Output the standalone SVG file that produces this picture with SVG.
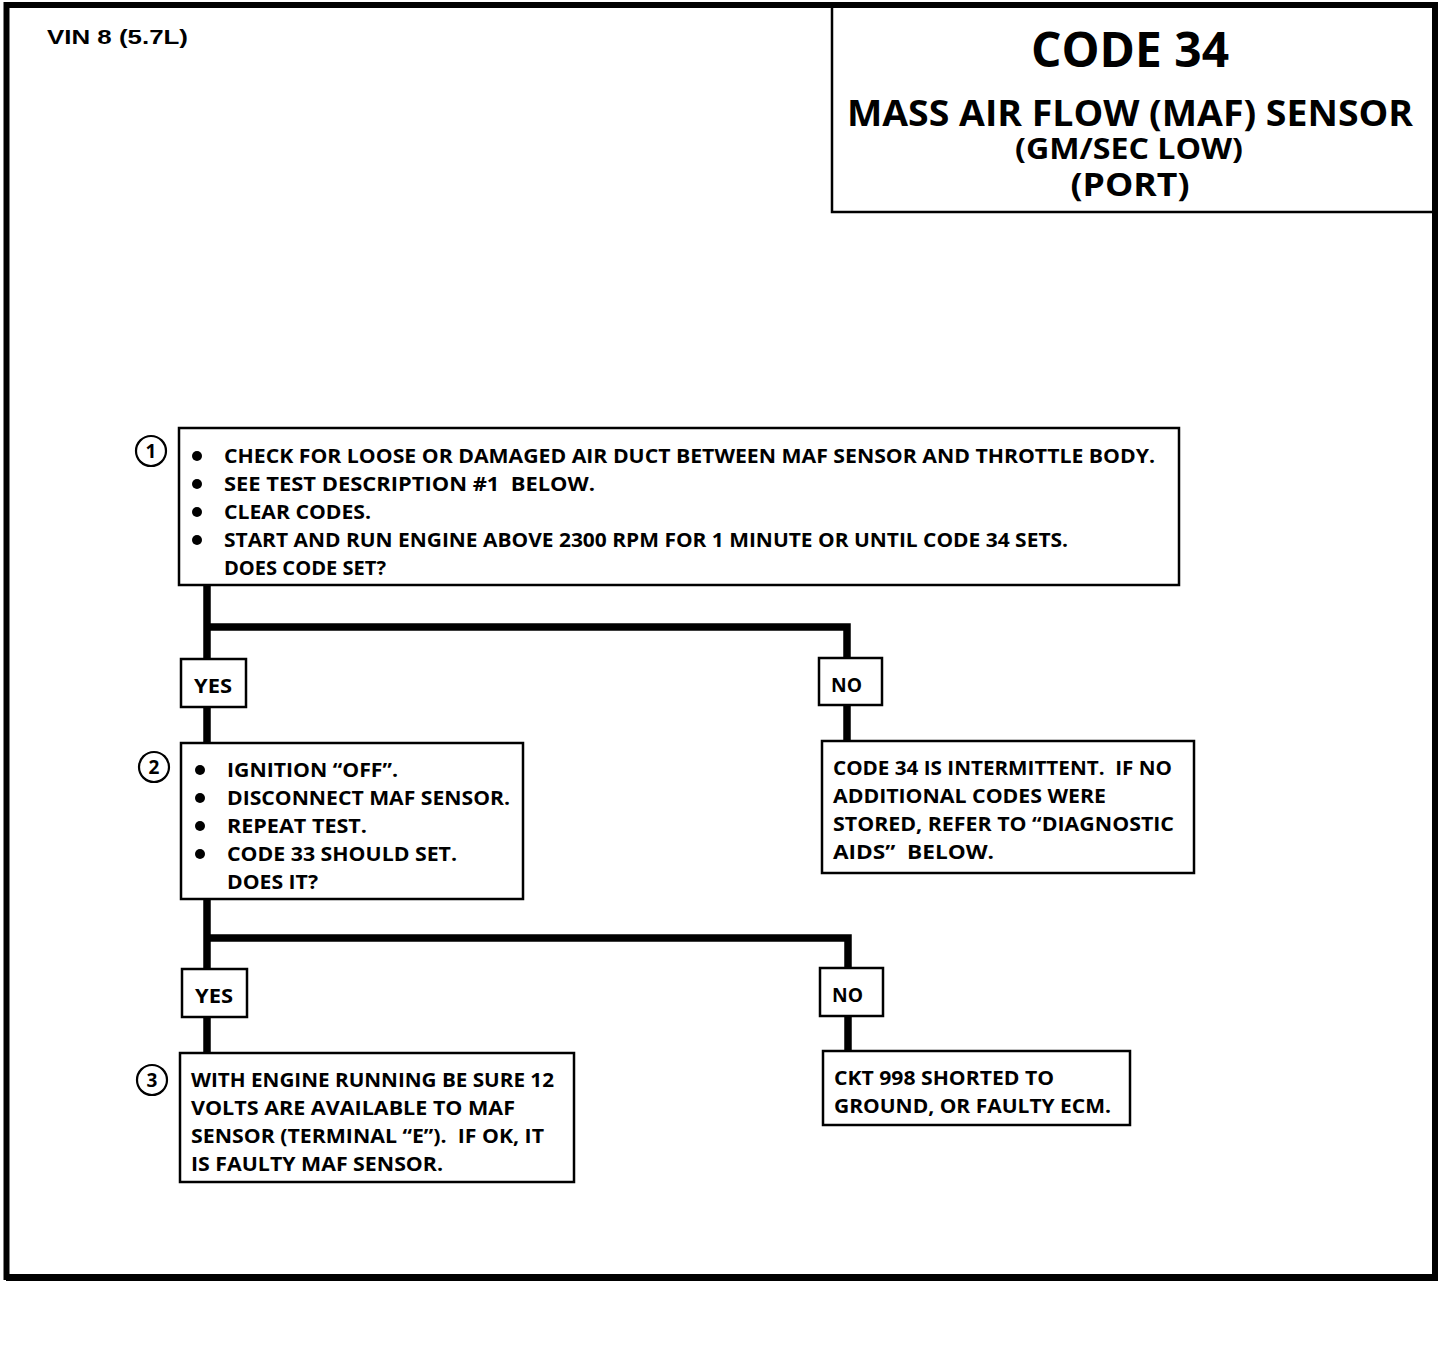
<svg xmlns="http://www.w3.org/2000/svg" width="1456" height="1356" viewBox="0 0 1456 1356">
<style>
text{white-space:pre}
.box{fill:#fff;stroke:#000;stroke-width:2.5}
.lbl{fill:#fff;stroke:#000;stroke-width:2.5}
.t{font-family:"Open Sans","Noto Sans","Liberation Sans",sans-serif;font-weight:bold;font-size:20px;fill:#000}
.h{font-family:"Open Sans","Noto Sans","Liberation Sans",sans-serif;font-weight:bold;fill:#000}
.v{font-family:"Liberation Sans",Arial,sans-serif;font-weight:bold;font-size:21px;fill:#000}
.n{font-family:"Open Sans","Noto Sans","Liberation Sans",sans-serif;font-weight:bold;font-size:19px;fill:#000;text-anchor:middle}
.c{fill:none;stroke:#000;stroke-width:2.2}
.conn{fill:none;stroke:#000;stroke-width:7.5}
</style>
<rect width="1456" height="1356" fill="#fff"/>
<g id="frame">
<path d="M6.5 5 H1435 V1277 H6.5 Z" fill="none" stroke="#000" stroke-width="6"/>
<rect x="6" y="1274" width="1432" height="7" fill="#000"/>
</g>
<g id="vin"><text class="v" x="47" y="44" textLength="141" lengthAdjust="spacingAndGlyphs">VIN 8 (5.7L)</text></g>
<g id="title">
<path d="M832 5 V212 H1435" fill="none" stroke="#000" stroke-width="2.5"/>
<text class="h" x="1130" y="67" font-size="48" text-anchor="middle" textLength="198" lengthAdjust="spacingAndGlyphs">CODE 34</text>
<text class="h" x="1130" y="126" font-size="36" text-anchor="middle" textLength="566" lengthAdjust="spacingAndGlyphs">MASS AIR FLOW (MAF) SENSOR</text>
<text class="h" x="1129" y="159" font-size="29" text-anchor="middle" textLength="228" lengthAdjust="spacingAndGlyphs">(GM/SEC LOW)</text>
<text class="h" x="1130" y="196" font-size="33" text-anchor="middle" textLength="119" lengthAdjust="spacingAndGlyphs">(PORT)</text>
</g>
<g id="connectors">
<path class="conn" d="M207 585 V659 M207 707 V743 M207 627 H847 V658 M847 705 V741"/>
<path class="conn" d="M207 899 V969 M207 1017 V1053 M207 938 H848 V968 M848 1016 V1051"/>
</g>
<g id="step1">
<circle class="c" cx="151" cy="451" r="15"/>
<text class="n" x="151" y="458">1</text>
<rect class="box" x="179" y="428" width="1000" height="157"/>
<circle cx="197" cy="456" r="5"/><circle cx="197" cy="484" r="5"/><circle cx="197" cy="512" r="5"/><circle cx="197" cy="540" r="5"/>
<text class="t" x="224" y="463" textLength="931" lengthAdjust="spacingAndGlyphs">CHECK FOR LOOSE OR DAMAGED AIR DUCT BETWEEN MAF SENSOR AND THROTTLE BODY.</text>
<text class="t" x="224" y="491" textLength="371" lengthAdjust="spacingAndGlyphs">SEE TEST DESCRIPTION #1  BELOW.</text>
<text class="t" x="224" y="519" textLength="147" lengthAdjust="spacingAndGlyphs">CLEAR CODES.</text>
<text class="t" x="224" y="547" textLength="844" lengthAdjust="spacingAndGlyphs">START AND RUN ENGINE ABOVE 2300 RPM FOR 1 MINUTE OR UNTIL CODE 34 SETS.</text>
<text class="t" x="224" y="575" textLength="162" lengthAdjust="spacingAndGlyphs">DOES CODE SET?</text>
</g>
<g id="yes1"><rect class="lbl" x="181" y="659" width="65" height="48"/><text class="t" x="194" y="693" textLength="38" lengthAdjust="spacingAndGlyphs">YES</text></g>
<g id="no1"><rect class="lbl" x="819" y="658" width="63" height="47"/><text class="t" x="831" y="692" textLength="31" lengthAdjust="spacingAndGlyphs">NO</text></g>
<g id="step2">
<circle class="c" cx="154" cy="767" r="15"/>
<text class="n" x="154" y="774">2</text>
<rect class="box" x="181" y="743" width="342" height="156"/>
<circle cx="200" cy="770" r="5"/><circle cx="200" cy="798" r="5"/><circle cx="200" cy="826" r="5"/><circle cx="200" cy="854" r="5"/>
<text class="t" x="227" y="777" textLength="171" lengthAdjust="spacingAndGlyphs">IGNITION “OFF”.</text>
<text class="t" x="227" y="805" textLength="283" lengthAdjust="spacingAndGlyphs">DISCONNECT MAF SENSOR.</text>
<text class="t" x="227" y="833" textLength="140" lengthAdjust="spacingAndGlyphs">REPEAT TEST.</text>
<text class="t" x="227" y="861" textLength="230" lengthAdjust="spacingAndGlyphs">CODE 33 SHOULD SET.</text>
<text class="t" x="227" y="889" textLength="91" lengthAdjust="spacingAndGlyphs">DOES IT?</text>
</g>
<g id="intermittent">
<rect class="box" x="822" y="741" width="372" height="132"/>
<text class="t" x="833" y="775" textLength="339" lengthAdjust="spacingAndGlyphs">CODE 34 IS INTERMITTENT.  IF NO</text>
<text class="t" x="833" y="803" textLength="273" lengthAdjust="spacingAndGlyphs">ADDITIONAL CODES WERE</text>
<text class="t" x="833" y="831" textLength="341" lengthAdjust="spacingAndGlyphs">STORED, REFER TO “DIAGNOSTIC</text>
<text class="t" x="833" y="859" textLength="161" lengthAdjust="spacingAndGlyphs">AIDS”  BELOW.</text>
</g>
<g id="yes2"><rect class="lbl" x="182" y="969" width="65" height="48"/><text class="t" x="195" y="1003" textLength="38" lengthAdjust="spacingAndGlyphs">YES</text></g>
<g id="no2"><rect class="lbl" x="820" y="968" width="63" height="48"/><text class="t" x="832" y="1002" textLength="31" lengthAdjust="spacingAndGlyphs">NO</text></g>
<g id="step3">
<circle class="c" cx="152" cy="1080" r="15"/>
<text class="n" x="152" y="1087">3</text>
<rect class="box" x="180" y="1053" width="394" height="129"/>
<text class="t" x="191" y="1087" textLength="363" lengthAdjust="spacingAndGlyphs">WITH ENGINE RUNNING BE SURE 12</text>
<text class="t" x="191" y="1115" textLength="324" lengthAdjust="spacingAndGlyphs">VOLTS ARE AVAILABLE TO MAF</text>
<text class="t" x="191" y="1143" textLength="353" lengthAdjust="spacingAndGlyphs">SENSOR (TERMINAL “E”).  IF OK, IT</text>
<text class="t" x="191" y="1171" textLength="252" lengthAdjust="spacingAndGlyphs">IS FAULTY MAF SENSOR.</text>
</g>
<g id="ckt998">
<rect class="box" x="823" y="1051" width="307" height="74"/>
<text class="t" x="834" y="1085" textLength="220" lengthAdjust="spacingAndGlyphs">CKT 998 SHORTED TO</text>
<text class="t" x="834" y="1113" textLength="277" lengthAdjust="spacingAndGlyphs">GROUND, OR FAULTY ECM.</text>
</g>
</svg>
